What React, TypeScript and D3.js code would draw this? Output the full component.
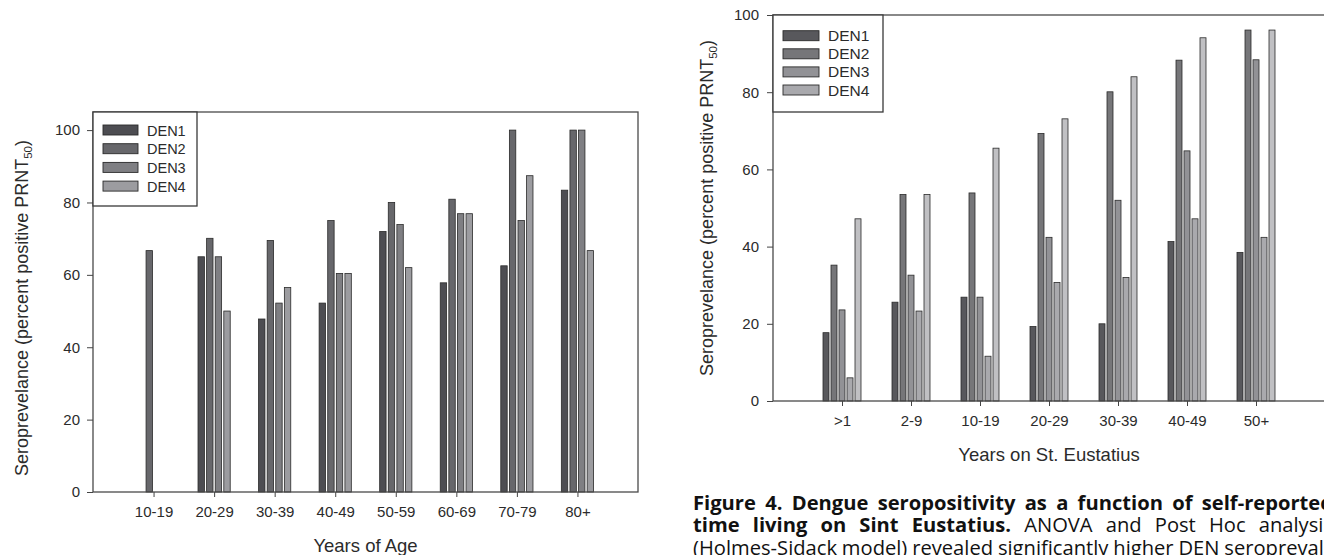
import { useEffect, useRef } from 'react'
import * as d3 from 'd3'

// left panel: seroprevalence by age
const ageGroups = ['10-19', '20-29', '30-39', '40-49', '50-59', '60-69', '70-79', '80+']
const ageNames = ['DEN1', 'DEN2', 'DEN3', 'DEN4']
const ageDen1 = [null, 65.0, 47.8, 52.2, 72.0, 57.8, 62.5, 83.4]
const ageDen2 = [66.7, 70.1, 69.5, 75.0, 80.0, 80.9, 100, 100]
const ageDen3 = [null, 65.0, 52.2, 60.4, 73.9, 76.9, 75.0, 100]
const ageDen4 = [null, 50.0, 56.5, 60.4, 62.0, 76.9, 87.4, 66.7]

// right panel: seroprevalence by years on St. Eustatius (5 bars, 4 in legend)
const yearGroups = ['>1', '2-9', '10-19', '20-29', '30-39', '40-49', '50+']
const yearNames = ['DEN1', 'DEN2', 'DEN3', 'DEN4']
const yearS1 = [17.7, 25.6, 26.9, 19.3, 20.0, 41.3, 38.5]
const yearS2 = [35.2, 53.5, 53.9, 69.3, 80.1, 88.3, 96.1]
const yearS3 = [23.6, 32.6, 26.9, 42.4, 52.0, 64.8, 88.4]
const yearS4 = [6.0, 23.3, 11.6, 30.7, 32.0, 47.2, 42.4]
const yearS5 = [47.2, 53.5, 65.5, 73.1, 84.0, 94.1, 96.1]

const yTicks = [0, 20, 40, 60, 80, 100]

const captionLines = [
  [{ t: 'Figure 4. Dengue seropositivity as a function of self-reported', b: true }],
  [
    { t: 'time living on Sint Eustatius.', b: true },
    { t: 'ANOVA and Post Hoc analysis', b: false },
  ],
  [{ t: '(Holmes-Sidack model) revealed significantly higher DEN seroprevalence', b: false }],
]

const FONT = '"Liberation Sans", Arial, sans-serif'
const INK = '#2b2b2b'

function drawChart(svg, cfg) {
  const { left, top, right, bottom, groups, series, colors, names, yMax, barW, pitch } = cfg
  const g = svg.append('g')
  const x = d3.scalePoint().domain(groups).range([left, right]).padding(1)
  const y = d3.scaleLinear().domain([0, yMax]).range([bottom, top])

  const n = series.length
  series.forEach((vals, s) => {
    g.selectAll(null)
      .data(vals.map((v, i) => ({ v, g: groups[i] })).filter((d) => d.v != null))
      .join('rect')
      .attr('x', (d) => x(d.g) + (s - (n - 1) / 2) * pitch - barW / 2)
      .attr('y', (d) => y(d.v))
      .attr('width', barW)
      .attr('height', (d) => y(0) - y(d.v))
      .attr('fill', colors[s])
      .attr('stroke', '#2a2a2a')
      .attr('stroke-width', 0.8)
  })

  // frame
  g.append('rect')
    .attr('x', left).attr('y', top)
    .attr('width', right - left).attr('height', bottom - top)
    .attr('fill', 'none').attr('stroke', '#4a4a4a').attr('stroke-width', 1.3)

  const ya = g.append('g').attr('transform', `translate(${left},0)`)
    .call(d3.axisLeft(y).tickValues(yTicks).tickSize(6).tickPadding(cfg.yPad))
  const xa = g.append('g').attr('transform', `translate(0,${bottom})`)
    .call(d3.axisBottom(x).tickSize(5).tickPadding(9))
  ;[ya, xa].forEach((a) => {
    a.select('.domain').remove()
    a.selectAll('line').attr('stroke', '#444')
    a.selectAll('text').attr('font-family', FONT).attr('font-size', 15).attr('fill', INK)
  })

  g.append('text')
    .attr('x', (left + right) / 2).attr('y', bottom + 60)
    .attr('text-anchor', 'middle')
    .attr('font-family', FONT).attr('font-size', 18.5).attr('fill', INK)
    .text(cfg.xTitle)

  const yt = g.append('text')
    .attr('transform', `translate(${cfg.yTitleX},${(top + bottom) / 2 + cfg.yTitleShift}) rotate(-90)`)
    .attr('text-anchor', 'middle')
    .attr('font-family', FONT).attr('font-size', 18).attr('fill', INK)
  yt.append('tspan').text('Seroprevelance (percent positive PRNT')
  yt.append('tspan').attr('font-size', 11.5).attr('dy', 4).text('50')
  yt.append('tspan').attr('dy', -4).text(')')

  // legend
  const L = cfg.legend
  g.append('rect')
    .attr('x', left).attr('y', top)
    .attr('width', L.w).attr('height', L.h)
    .attr('fill', '#fff').attr('stroke', '#3a3a3a').attr('stroke-width', 1.3)
  names.forEach((nm, i) => {
    const cy = top + L.first + i * L.step
    g.append('rect')
      .attr('x', left + L.sx).attr('y', cy - 5)
      .attr('width', L.sw).attr('height', 10)
      .attr('fill', colors[i]).attr('stroke', '#2a2a2a').attr('stroke-width', 0.9)
    g.append('text')
      .attr('x', left + L.tx).attr('y', cy + 5.5)
      .attr('font-family', FONT).attr('font-size', L.fs).attr('fill', INK)
      .text(nm)
  })
}

function drawCaption(svg) {
  const x0 = 693
  const width = 640
  const baselines = [510, 532, 555]
  const cap = svg.append('g')
    .attr('font-family', '"Open Sans", "DejaVu Sans", sans-serif')
    .attr('fill', '#111')

  // size the font so the bold first line roughly fills the column
  const probe = cap.append('text').attr('font-size', 20).attr('font-weight', 700)
    .text(captionLines[0][0].t)
  const natural = probe.node().getComputedTextLength()
  probe.remove()
  const fs = Math.min(21, Math.max(16, (20 * width * 0.95) / natural))
  cap.attr('font-size', fs)

  captionLines.forEach((line, li) => {
    const words = []
    line.forEach((chunk) => chunk.t.split(' ').forEach((w) => words.push({ w, b: chunk.b })))
    const nodes = words.map((d) =>
      cap.append('text')
        .attr('y', baselines[li])
        .attr('font-weight', d.b ? 700 : 400)
        .text(d.w)
    )
    const widths = nodes.map((nd) => nd.node().getComputedTextLength())
    const total = d3.sum(widths)
    const gap = Math.max(fs * 0.24, (width - total) / (words.length - 1))
    let cx = x0
    nodes.forEach((nd, i) => {
      nd.attr('x', cx)
      cx += widths[i] + gap
    })
  })
}

export default function App() {
  const ref = useRef(null)

  useEffect(() => {
    const el = ref.current
    if (!el) return
    const svg = d3.select(el)
    svg.selectAll('*').remove()

    drawChart(svg, {
      left: 93, top: 112, right: 638, bottom: 492,
      groups: ageGroups,
      series: [ageDen1, ageDen2, ageDen3, ageDen4],
      names: ageNames,
      colors: ['#4d4d52', '#67676b', '#7f7f83', '#9c9ca0'],
      yMax: 105, barW: 6.4, pitch: 8.6, yPad: 7,
      xTitle: 'Years of Age', yTitleX: 28, yTitleShift: 6,
      legend: { w: 104, h: 94, first: 18, step: 18.7, sx: 10, sw: 35, tx: 54, fs: 14.5 },
    })

    drawChart(svg, {
      left: 773, top: 15, right: 1325, bottom: 401,
      groups: yearGroups,
      series: [yearS1, yearS2, yearS3, yearS4, yearS5],
      names: yearNames,
      colors: ['#58585c', '#767679', '#929296', '#a9a9ad', '#c0c0c3'],
      yMax: 100, barW: 6, pitch: 8, yPad: 8,
      xTitle: 'Years on St. Eustatius', yTitleX: 713, yTitleShift: 0,
      legend: { w: 110, h: 97, first: 20.7, step: 18.1, sx: 10, sw: 36, tx: 55, fs: 15.5 },
    })

    drawCaption(svg)
  }, [])

  return (
    <svg
      ref={ref}
      width={1324}
      height={555}
      style={{ position: 'fixed', left: 0, top: 0, background: '#fff', display: 'block' }}
    />
  )
}
